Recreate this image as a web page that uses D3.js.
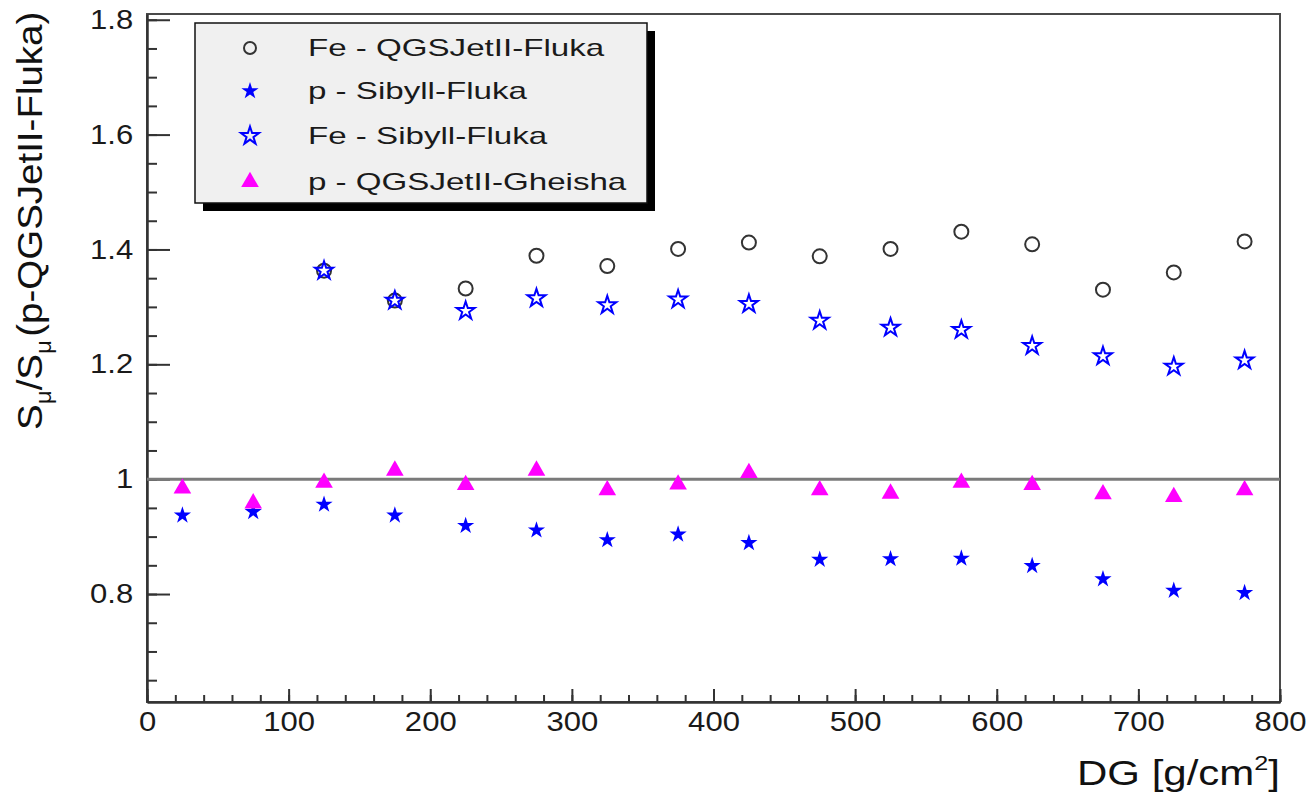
<!DOCTYPE html>
<meta charset="utf-8">
<script src="https://d3js.org/d3.v7.min.js"></script>
<style>
  body { margin: 0; background: #fff; font-family: "Liberation Sans", Arial, sans-serif; }
</style>
<div id="chart"></div>
<script>
// atmospheric depth bins (g/cm2)
var depths = [25, 75, 125, 175, 225, 275, 325, 375, 425, 475, 525, 575, 625, 675, 725, 775];

// muon signal ratios
var feQgsFluka    = [null, null, 1.363, 1.311, 1.332, 1.389, 1.371, 1.401, 1.412, 1.388, 1.401, 1.431, 1.409, 1.330, 1.360, 1.414];
var pSibyllFluka  = [0.937, 0.943, 0.956, 0.937, 0.919, 0.911, 0.894, 0.904, 0.889, 0.860, 0.861, 0.862, 0.849, 0.826, 0.806, 0.802];
var feSibyllFluka = [null, null, 1.363, 1.311, 1.293, 1.315, 1.303, 1.313, 1.305, 1.276, 1.264, 1.260, 1.232, 1.214, 1.196, 1.207];
var pQgsGheisha   = [0.984, 0.958, 0.994, 1.015, 0.990, 1.015, 0.981, 0.991, 1.011, 0.981, 0.975, 0.994, 0.990, 0.974, 0.969, 0.981];

var seriesNames = ["Fe - QGSJetII-Fluka", "p - Sibyll-Fluka", "Fe - Sibyll-Fluka", "p - QGSJetII-Gheisha"];

var xTicks = [0, 100, 200, 300, 400, 500, 600, 700, 800];
var yTicks = [0.8, 1, 1.2, 1.4, 1.6, 1.8];
var xMinor = d3.range(0, 801, 20);
var yMinor = d3.range(0.65, 1.81, 0.05);

var W = 1311, H = 795;
var plotLeft = 147, plotRight = 1280, plotTop = 14, plotBottom = 702;

var svg = d3.select("#chart").append("svg")
  .attr("width", W).attr("height", H)
  .style("display", "block");

svg.append("rect").attr("width", W).attr("height", H).attr("fill", "#fff");

var x = d3.scaleLinear().domain([0, 800]).range([plotLeft, plotRight]);
var y = d3.scaleLinear().domain([0.612, 1.81]).range([plotBottom, plotTop]);

// frame
svg.append("rect")
  .attr("x", plotLeft).attr("y", plotTop)
  .attr("width", plotRight - plotLeft).attr("height", plotBottom - plotTop)
  .attr("fill", "none").attr("stroke", "#4a4a4a").attr("stroke-width", 2);

// x axis
var gx = svg.append("g").attr("transform", "translate(0," + plotBottom + ")");
gx.call(d3.axisBottom(x).tickValues(xMinor).tickFormat("").tickSizeInner(-7).tickSizeOuter(0));
gx.select(".domain").remove();
var gx2 = svg.append("g").attr("transform", "translate(0," + plotBottom + ")");
gx2.call(d3.axisBottom(x).tickValues(xTicks).tickFormat(d3.format("d")).tickSizeInner(-13).tickSizeOuter(0).tickPadding(10));

// y axis
var gy = svg.append("g").attr("transform", "translate(" + plotLeft + ",0)");
gy.call(d3.axisLeft(y).tickValues(yMinor).tickFormat("").tickSizeInner(-10).tickSizeOuter(0));
gy.select(".domain").remove();
var gy2 = svg.append("g").attr("transform", "translate(" + plotLeft + ",0)");
gy2.call(d3.axisLeft(y).tickValues(yTicks).tickFormat(function(d) { return String(d); }).tickSizeInner(-23).tickSizeOuter(0).tickPadding(12));

svg.selectAll(".tick line").attr("stroke", "#333").attr("stroke-width", 2);
svg.selectAll(".domain").attr("stroke", "#333").attr("stroke-width", 2.5);
svg.selectAll(".tick text")
  .attr("fill", "#1a1a1a")
  .style("font-family", "'Liberation Sans', Arial, sans-serif")
  .style("font-size", "27px")
  .attr("transform", "scale(1.15,1)");

// reference line at 1
svg.append("line")
  .attr("x1", plotLeft).attr("x2", plotRight)
  .attr("y1", y(1)).attr("y2", y(1))
  .attr("stroke", "#7a7a7a").attr("stroke-width", 3);

// markers
var starFilled = d3.symbol().type(d3.symbolStar).size(92);
var starOpen = d3.symbol().type(d3.symbolStar).size(100);
var tri = d3.symbol().type(d3.symbolTriangle).size(135);

function pts(vals) {
  return depths.map(function(d, i) { return {x: d, v: vals[i]}; }).filter(function(p) { return p.v != null; });
}

svg.append("g").selectAll("circle").data(pts(feQgsFluka)).join("circle")
  .attr("cx", function(d) { return x(d.x); })
  .attr("cy", function(d) { return y(d.v); })
  .attr("r", 7)
  .attr("fill", "none").attr("stroke", "#333").attr("stroke-width", 2);

svg.append("g").selectAll("path").data(pts(pSibyllFluka)).join("path")
  .attr("transform", function(d) { return "translate(" + x(d.x) + "," + y(d.v) + ")"; })
  .attr("d", starFilled)
  .attr("fill", "#0000ff");

svg.append("g").selectAll("path").data(pts(feSibyllFluka)).join("path")
  .attr("transform", function(d) { return "translate(" + x(d.x) + "," + y(d.v) + ")"; })
  .attr("d", starOpen)
  .attr("fill", "none").attr("stroke", "#0000ff").attr("stroke-width", 2);

svg.append("g").selectAll("path").data(pts(pQgsGheisha)).join("path")
  .attr("transform", function(d) { return "translate(" + x(d.x) + "," + y(d.v) + ")"; })
  .attr("d", tri)
  .attr("fill", "#ff00ff");

// legend
var lg = svg.append("g");
lg.append("rect").attr("x", 203).attr("y", 31).attr("width", 452).attr("height", 180).attr("fill", "#000");
lg.append("rect").attr("x", 195).attr("y", 23).attr("width", 452).attr("height", 180)
  .attr("fill", "#f0f0f0").attr("stroke", "#111").attr("stroke-width", 1.5);

var rowY = [48, 91, 136, 182];
lg.append("circle").attr("cx", 250).attr("cy", rowY[0]).attr("r", 6)
  .attr("fill", "none").attr("stroke", "#333").attr("stroke-width", 2);
lg.append("path").attr("transform", "translate(250," + rowY[1] + ")").attr("d", starFilled).attr("fill", "#0000ff");
lg.append("path").attr("transform", "translate(250," + rowY[2] + ")").attr("d", starOpen)
  .attr("fill", "none").attr("stroke", "#0000ff").attr("stroke-width", 2);
lg.append("path").attr("transform", "translate(250," + rowY[3] + ")").attr("d", tri).attr("fill", "#ff00ff");

seriesNames.forEach(function(name, i) {
  lg.append("text")
    .attr("transform", "translate(308," + (rowY[i] + 8) + ") scale(1.38,1)")
    .attr("fill", "#1a1a1a")
    .style("font-size", "24px")
    .text(name);
});

// x title
var xt = svg.append("text")
  .attr("transform", "translate(1280,785) scale(1.2,1)")
  .attr("text-anchor", "end")
  .attr("fill", "#111")
  .style("font-size", "35px");
xt.append("tspan").text("DG [g/cm");
xt.append("tspan").attr("dy", -15).style("font-size", "21px").text("2");
xt.append("tspan").attr("dy", 15).text("]");

// y title
var yt = svg.append("text")
  .attr("transform", "translate(42,430) rotate(-90) scale(1.1,1)")
  .attr("fill", "#111")
  .style("font-size", "35px");
yt.append("tspan").text("S");
yt.append("tspan").attr("dy", 9).style("font-size", "22px").text("μ");
yt.append("tspan").attr("dy", -9).text("/S");
yt.append("tspan").attr("dy", 9).style("font-size", "22px").text("μ");
yt.append("tspan").attr("dy", -9).attr("dx", 3).text("(p-QGSJetII-Fluka)");
</script>
